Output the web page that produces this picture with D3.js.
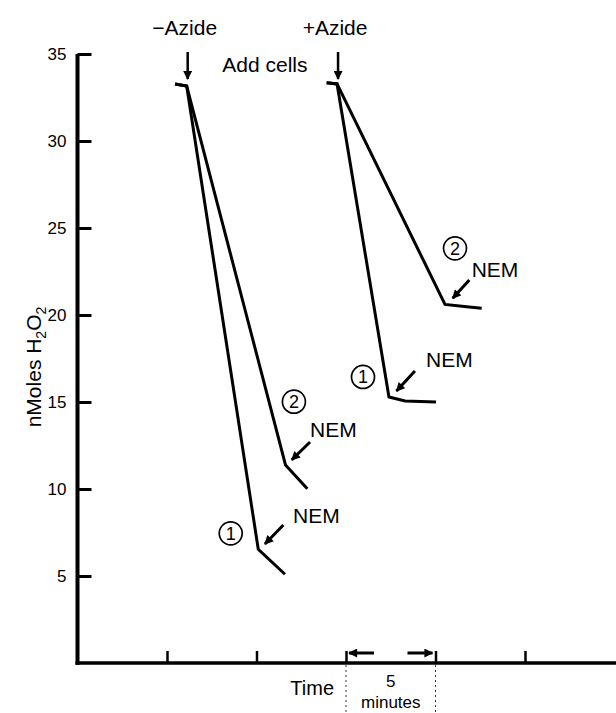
<!DOCTYPE html>
<html>
<head>
<meta charset="utf-8">
<script src="https://cdn.jsdelivr.net/npm/d3@7"></script>
<style>
body { margin:0; background:#fff; }
text { font-family: "Liberation Sans", Arial, Helvetica, sans-serif; fill:#000; }
</style>
</head>
<body>
<div id="wrap"></div>
<script>
// time in minutes, nmoles H2O2
var minusTime1 = [5.45, 6.10, 10.10, 11.59];
var minusVal1  = [33.28, 33.16, 6.53, 5.10];
var minusTime2 = [5.45, 6.10, 11.62, 12.84];
var minusVal2  = [33.28, 33.16, 11.38, 10.02];
var plusTime1  = [13.92, 14.50, 17.40, 18.30, 20.03];
var plusVal1   = [33.35, 33.28, 15.29, 15.06, 15.00];
var plusTime2  = [13.92, 14.50, 20.53, 21.74, 22.58];
var plusVal2   = [33.35, 33.28, 20.61, 20.48, 20.39];

var yTicks = [5, 10, 15, 20, 25, 30, 35];
var xTicks = [5, 10, 15, 20, 25];

// circled numbers and NEM labels (time, value)
var circleText = ["1", "2", "1", "2"];
var circleTime = [8.56, 12.09, 15.95, 21.09];
var circleVal  = [7.45, 15.02, 16.44, 23.83];
var nemTime = [12.04, 12.99, 19.47, 22.02];
var nemVal  = [8.05, 12.99, 17.01, 22.18];
var nemArrowFrom = [[11.50, 7.93], [12.99, 12.70], [18.85, 16.78], [21.89, 22.01]];
var nemArrowTo   = [[10.47, 6.84], [11.97, 11.67], [17.82, 15.63], [20.96, 20.96]];

var svg = d3.select('#wrap')
  .append('svg')
  .attr("width", 616)
  .attr("height", 713)

var x = d3.scaleLinear().domain([0, 30]).range([77.5, 614.5]);
var y = d3.scaleLinear().domain([0, 35]).range([663, 54]);

svg.append("defs").append("marker")
  .attr("id", "head")
  .attr("markerUnits", "userSpaceOnUse")
  .attr("viewBox", "0 0 10 10")
  .attr("refX", 9).attr("refY", 5)
  .attr("markerWidth", 10).attr("markerHeight", 9)
  .attr("orient", "auto")
  .append("path")
  .attr("d", "M0,0 L10,5 L0,10 z")
  .attr("fill", "#000");

// y axis, ticks pointing inward
var yAxis = svg.append("g")
  .attr("transform", "translate(" + x(0) + ",0)")
  .call(d3.axisLeft(y).tickValues(yTicks).tickSize(-14).tickSizeOuter(0).tickPadding(11));
yAxis.select(".domain").attr("stroke-width", 4).attr("d", "M0," + (y(0) + 2) + "V" + y(35));
yAxis.selectAll(".tick line").attr("stroke-width", 3);
yAxis.selectAll(".tick text")
  .attr("font-size", 17)
  .attr("font-family", "Liberation Sans, Arial, sans-serif")
  .attr("fill", "#222");

// x axis
var xAxis = svg.append("g")
  .attr("transform", "translate(0," + y(0) + ")")
  .call(d3.axisBottom(x).tickValues(xTicks).tickSize(-12).tickSizeOuter(0).tickFormat(""));
xAxis.select(".domain").attr("stroke-width", 3.5).attr("d", "M" + (x(0) - 2) + ",0H616");
xAxis.selectAll(".tick line").attr("stroke-width", 2.5);

// y label
svg.append("text")
  .attr("transform", "translate(41,367) rotate(-90)")
  .attr("text-anchor", "middle")
  .attr("font-size", 21)
  .html('nMoles H<tspan font-size="14" dy="5">2</tspan><tspan dy="-5">O</tspan><tspan font-size="14" dy="5">2</tspan>');

// traces
var line = d3.line().x(d => x(d[0])).y(d => y(d[1]));
[[minusTime1, minusVal1], [minusTime2, minusVal2], [plusTime1, plusVal1], [plusTime2, plusVal2]]
  .forEach(function (s) {
    svg.append("path")
      .datum(d3.zip(s[0], s[1]))
      .attr("d", line)
      .attr("fill", "none")
      .attr("stroke", "#000")
      .attr("stroke-width", 3)
      .attr("stroke-linejoin", "miter");
  });

// circled numbers
circleText.forEach(function (t, i) {
  svg.append("circle")
    .attr("cx", x(circleTime[i])).attr("cy", y(circleVal[i]))
    .attr("r", 11.5)
    .attr("fill", "none").attr("stroke", "#000").attr("stroke-width", 1.7);
  svg.append("text")
    .attr("x", x(circleTime[i])).attr("y", y(circleVal[i]) + 6.5)
    .attr("text-anchor", "middle")
    .attr("font-size", 18)
    .text(t);
});

// NEM labels + arrows
nemTime.forEach(function (t, i) {
  svg.append("text")
    .attr("x", x(t)).attr("y", y(nemVal[i]))
    .attr("font-size", 21)
    .text("NEM");
  svg.append("line")
    .attr("x1", x(nemArrowFrom[i][0])).attr("y1", y(nemArrowFrom[i][1]))
    .attr("x2", x(nemArrowTo[i][0])).attr("y2", y(nemArrowTo[i][1]))
    .attr("stroke", "#000").attr("stroke-width", 3)
    .attr("marker-end", "url(#head)");
});

// top labels and "add cells" arrows
var addTimes = [minusTime1[1], plusTime1[1]];
var addNames = ["\u2212Azide", "+Azide"];
addTimes.forEach(function (t, i) {
  svg.append("line")
    .attr("x1", x(t) + 1).attr("y1", 52)
    .attr("x2", x(t) + 1).attr("y2", 79)
    .attr("stroke", "#000").attr("stroke-width", 2.5)
    .attr("marker-end", "url(#head)");
  svg.append("text")
    .attr("x", x(t) - 2).attr("y", 35)
    .attr("text-anchor", "middle")
    .attr("font-size", 21)
    .text(addNames[i]);
});
svg.append("text")
  .attr("x", (x(addTimes[0]) + x(addTimes[1])) / 2 + 3).attr("y", 72)
  .attr("text-anchor", "middle")
  .attr("font-size", 21)
  .text("Add cells");

// time scale bar under axis
var barStart = 15, barEnd = 20;
[barStart, barEnd].forEach(function (t) {
  svg.append("line")
    .attr("x1", x(t)).attr("y1", y(0) + 2)
    .attr("x2", x(t)).attr("y2", 713)
    .attr("stroke", "#333").attr("stroke-width", 1)
    .attr("stroke-dasharray", "2,3");
});
svg.append("line")
  .attr("x1", x(barStart) + 28).attr("y1", 653)
  .attr("x2", x(barStart) + 3).attr("y2", 653)
  .attr("stroke", "#000").attr("stroke-width", 3)
  .attr("marker-end", "url(#head)");
svg.append("line")
  .attr("x1", x(barEnd) - 28).attr("y1", 653)
  .attr("x2", x(barEnd) - 3).attr("y2", 653)
  .attr("stroke", "#000").attr("stroke-width", 3)
  .attr("marker-end", "url(#head)");

svg.append("text")
  .attr("x", x(barStart) - 12).attr("y", 695)
  .attr("text-anchor", "end")
  .attr("font-size", 20)
  .text("Time");
var midX = x((barStart + barEnd) / 2);
svg.append("text")
  .attr("x", midX).attr("y", 687)
  .attr("text-anchor", "middle")
  .attr("font-size", 17)
  .text("5");
svg.append("text")
  .attr("x", midX).attr("y", 708)
  .attr("text-anchor", "middle")
  .attr("font-size", 17)
  .text("minutes");
</script>
</body>
</html>
